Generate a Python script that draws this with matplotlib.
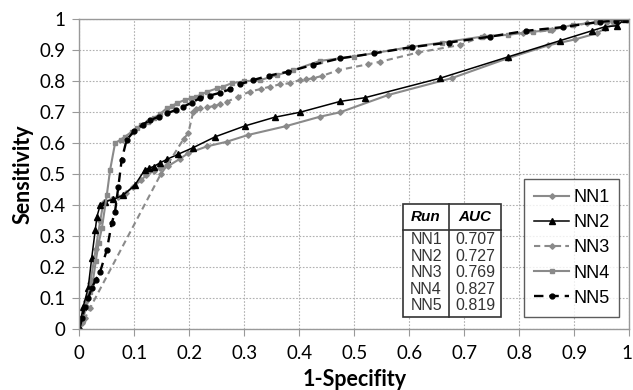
import numpy as np
import matplotlib.pyplot as plt
from matplotlib.transforms import ScaledTranslation

# ROC curves
nn1_x = [0, 0.005, 0.012, 0.02, 0.03, 0.038, 0.044, 0.06, 0.071, 0.085, 0.098, 0.113, 0.122, 0.135,
         0.147, 0.162, 0.183, 0.198, 0.232, 0.268, 0.307, 0.375, 0.438, 0.474, 0.562, 0.677, 0.78,
         0.853, 0.901, 0.941, 0.956, 0.975, 1.0]
nn1_y = [0, 0.04, 0.09, 0.15, 0.26, 0.35, 0.41, 0.42, 0.426, 0.44, 0.46, 0.482, 0.498, 0.51,
         0.519, 0.527, 0.55, 0.568, 0.59, 0.605, 0.627, 0.655, 0.686, 0.70, 0.756, 0.81, 0.875,
         0.916, 0.935, 0.955, 0.971, 0.985, 1.0]

nn2_x = [0, 0.007, 0.016, 0.0225, 0.029, 0.032, 0.038, 0.047, 0.062, 0.08, 0.101, 0.119, 0.127,
         0.135, 0.147, 0.159, 0.18, 0.207, 0.247, 0.301, 0.355, 0.401, 0.474, 0.519, 0.656, 0.78,
         0.874, 0.932, 0.956, 0.977, 0.992, 1.0]
nn2_y = [0, 0.073, 0.132, 0.229, 0.32, 0.363, 0.401, 0.412, 0.419, 0.433, 0.465, 0.514, 0.52,
         0.525, 0.537, 0.548, 0.565, 0.586, 0.621, 0.656, 0.684, 0.70, 0.735, 0.747, 0.81, 0.879,
         0.931, 0.963, 0.976, 0.979, 1.0, 1.0]

nn3_x = [0, 0.005, 0.01, 0.02, 0.148, 0.16, 0.19, 0.198, 0.207, 0.213, 0.219, 0.232, 0.244, 0.256,
         0.268, 0.289, 0.31, 0.33, 0.347, 0.365, 0.383, 0.401, 0.413, 0.425, 0.441, 0.471, 0.525,
         0.547, 0.616, 0.692, 0.735, 0.807, 0.859, 0.923, 0.96, 1.0]
nn3_y = [0, 0.02, 0.035, 0.07, 0.5, 0.53, 0.615, 0.632, 0.70, 0.71, 0.713, 0.716, 0.72, 0.726,
         0.734, 0.75, 0.767, 0.775, 0.783, 0.79, 0.794, 0.804, 0.806, 0.81, 0.817, 0.836, 0.855,
         0.863, 0.893, 0.917, 0.946, 0.955, 0.965, 0.987, 0.99, 1.0]

nn4_x = [0, 0.006, 0.013, 0.02, 0.025, 0.03, 0.035, 0.041, 0.05, 0.056, 0.065, 0.075, 0.083, 0.095,
         0.104, 0.113, 0.124, 0.135, 0.147, 0.159, 0.168, 0.177, 0.192, 0.203, 0.213, 0.222, 0.232,
         0.25, 0.262, 0.277, 0.3, 0.329, 0.36, 0.389, 0.438, 0.5, 0.6, 0.66, 0.732, 0.78, 0.825,
         0.856, 0.898, 0.94, 0.97, 1.0]
nn4_y = [0, 0.03, 0.073, 0.12, 0.159, 0.22, 0.277, 0.326, 0.433, 0.514, 0.6, 0.612, 0.621, 0.637,
         0.648, 0.659, 0.67, 0.681, 0.695, 0.713, 0.72, 0.729, 0.74, 0.745, 0.75, 0.758, 0.766,
         0.777, 0.783, 0.794, 0.8, 0.804, 0.82, 0.836, 0.866, 0.88, 0.91, 0.925, 0.944, 0.95, 0.96,
         0.965, 0.982, 0.99, 0.995, 1.0]

nn5_x = [0, 0.005, 0.01, 0.016, 0.0225, 0.03, 0.038, 0.05, 0.059, 0.065, 0.071, 0.077, 0.086, 0.1,
         0.115, 0.129, 0.145, 0.16, 0.175, 0.189, 0.204, 0.219, 0.237, 0.256, 0.274, 0.292, 0.316,
         0.344, 0.38, 0.425, 0.474, 0.535, 0.604, 0.672, 0.747, 0.813, 0.88, 0.947, 0.975, 0.992, 1.0]
nn5_y = [0, 0.035, 0.073, 0.1, 0.132, 0.16, 0.186, 0.256, 0.342, 0.38, 0.46, 0.546, 0.611, 0.64,
         0.66, 0.675, 0.686, 0.697, 0.707, 0.718, 0.731, 0.745, 0.754, 0.763, 0.774, 0.791, 0.804,
         0.818, 0.831, 0.853, 0.874, 0.89, 0.91, 0.925, 0.944, 0.963, 0.975, 0.992, 0.996, 1.0, 1.0]

runs = ['NN1', 'NN2', 'NN3', 'NN4', 'NN5']
auc = ['0.707', '0.727', '0.769', '0.827', '0.819']

gray = '#8a8a8a'

fig = plt.figure(figsize=(6.33, 3.9), dpi=100)
ax = fig.add_axes([79.3/633, 1-329.3/390, 550/633, 310/390])

ax.plot(nn1_x, nn1_y, color=gray, lw=1.5, marker='D', ms=2.8, label='NN1')
ax.plot(nn2_x, nn2_y, color='black', lw=1.1, marker='^', ms=4, label='NN2')
ax.plot(nn3_x, nn3_y, color=gray, lw=1.5, ls=(0, (3, 2)), marker='D', ms=2.8, label='NN3')
ax.plot(nn4_x, nn4_y, color=gray, lw=1.5, marker='s', ms=3.5, label='NN4')
ax.plot(nn5_x, nn5_y, color='black', lw=1.7, ls=(0, (4, 2.5)), marker='o', ms=3.5, label='NN5')

ax.set_xlim(0, 1)
ax.set_ylim(0, 1)
ticks = np.round(np.arange(0, 1.01, 0.1), 1)
labels = ['0'] + ['%.1f' % t for t in ticks[1:-1]] + ['1']
ax.set_xticks(ticks)
ax.set_xticklabels(labels)
ax.set_yticks(ticks)
ax.set_yticklabels(labels)
ax.tick_params(length=5, width=0.8, color='#999999', labelsize=13.5, pad=5)
ax.tick_params(axis='x', pad=6.5)
for lab in ax.get_xticklabels() + ax.get_yticklabels():
    lab.set_family('Lato')
# keep the last x label inside the canvas
last = ax.get_xticklabels()[-1]
last.set_transform(last.get_transform() + ScaledTranslation(-2 / 100, 0, fig.dpi_scale_trans))

ax.grid(True, ls=(0, (1.5, 1.5)), color='#b0b0b0', lw=0.8)
ax.set_axisbelow(True)
for s in ax.spines.values():
    s.set_color('#999999')
    s.set_linewidth(1.0)

ax.set_xlabel('1-Specifity', family='Lato', fontweight='bold', fontsize=15.5, labelpad=4.5)
ax.set_ylabel('Sensitivity', family='Lato', fontweight='bold', fontsize=15.5, labelpad=4)

leg = ax.legend(loc='lower right', bbox_to_anchor=(0.982, 0.041), borderaxespad=0,
                frameon=True, fancybox=False, edgecolor='#333333',
                prop={'family': 'Liberation Sans', 'size': 13},
                handlelength=1.9, handletextpad=0.25, labelspacing=0.45, borderpad=0.55)
leg.get_frame().set_linewidth(1.0)

# AUC table
tl, tr, tdiv = 0.588, 0.766, 0.673
ttop, thead, tbot = 0.404, 0.320, 0.041
ax.add_patch(plt.Rectangle((tl, tbot), tr - tl, ttop - tbot, transform=ax.transAxes,
                           facecolor='white', edgecolor='#333333', lw=1.2, zorder=5))
ax.plot([tdiv, tdiv], [tbot, ttop], transform=ax.transAxes, color='#333333', lw=1.2, zorder=6)
ax.plot([tl, tr], [thead, thead], transform=ax.transAxes, color='#333333', lw=1.2, zorder=6)
ax.text((tl + tdiv) / 2, (ttop + thead) / 2, 'Run', transform=ax.transAxes, ha='center', va='center',
        family='Liberation Sans', fontweight='bold', style='italic', fontsize=11, zorder=7)
ax.text((tdiv + tr) / 2, (ttop + thead) / 2, 'AUC', transform=ax.transAxes, ha='center', va='center',
        family='Liberation Sans', fontweight='bold', style='italic', fontsize=11, zorder=7)
row_h = (thead - tbot - 0.012) / len(runs)
for i, (r, a) in enumerate(zip(runs, auc)):
    yy = thead - 0.004 - row_h * (i + 0.5)
    ax.text((tl + tdiv) / 2, yy, r, transform=ax.transAxes, ha='center', va='center',
            family='Liberation Sans', fontsize=11.5, color='#333333', zorder=7)
    ax.text((tdiv + tr) / 2, yy, a, transform=ax.transAxes, ha='center', va='center',
            family='Liberation Sans', fontsize=11.5, color='#333333', zorder=7)

fig.savefig('out.png', dpi=100)
